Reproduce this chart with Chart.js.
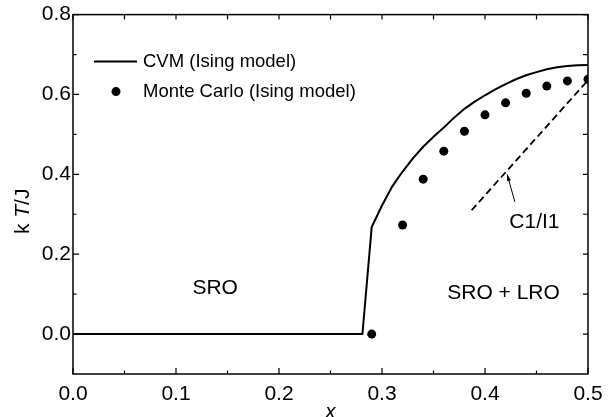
<!DOCTYPE html>
<html>
<head>
<meta charset="utf-8">
<script src="https://cdn.jsdelivr.net/npm/chart.js@4/dist/chart.umd.min.js"></script>
<style>
  html, body { margin: 0; padding: 0; background: #fff; }
</style>
</head>
<body>
<canvas id="chart" width="611" height="417"></canvas>
<script>
// CVM (Ising model) phase boundary
var cvmX = [0, 0.281, 0.29, 0.30, 0.31, 0.32, 0.33, 0.34, 0.35, 0.36, 0.37, 0.38, 0.39, 0.40, 0.41, 0.42, 0.43, 0.44, 0.45, 0.46, 0.47, 0.48, 0.49, 0.50];
var cvmY = [0, 0, 0.268, 0.322, 0.370, 0.407, 0.440, 0.469, 0.494, 0.517, 0.542, 0.564, 0.582, 0.598, 0.613, 0.626, 0.638, 0.648, 0.656, 0.663, 0.668, 0.671, 0.673, 0.674];

// Monte Carlo (Ising model) points
var mcX = [0.29, 0.32, 0.34, 0.36, 0.38, 0.40, 0.42, 0.44, 0.46, 0.48, 0.50];
var mcY = [0.0, 0.273, 0.388, 0.458, 0.508, 0.549, 0.579, 0.603, 0.621, 0.634, 0.638];

// C1/I1 dashed segment
var c1X = [0.387, 0.498];
var c1Y = [0.31, 0.63];

var xTicks = [0, 0.1, 0.2, 0.3, 0.4, 0.5];
var yTicks = [0, 0.2, 0.4, 0.6, 0.8];

var labels = [
    { text: 'SRO', x: 0.138, y: 0.114 },
    { text: 'SRO + LRO', x: 0.418, y: 0.102 },
    { text: 'C1/I1', x: 0.448, y: 0.28 }
];
var arrowFrom = { x: 0.429, y: 0.331 };
var arrowTo = { x: 0.4215, y: 0.40 };

var FONT = "'Liberation Sans', Arial, sans-serif";
Chart.defaults.font.family = FONT;
Chart.defaults.color = '#000';

function pts(xs, ys) {
    return xs.map(function (x, i) { return { x: x, y: ys[i] }; });
}

var frame = {
    id: 'frame',
    afterDatasetsDraw: function (chart) {
        var ctx = chart.ctx;
        var a = chart.chartArea;
        var sx = chart.scales.x, sy = chart.scales.y;
        ctx.save();
        ctx.strokeStyle = '#000';
        ctx.lineWidth = 1.5;
        ctx.strokeRect(a.left, a.top, a.right - a.left, a.bottom - a.top);

        ctx.lineWidth = 1.2;
        ctx.beginPath();
        // x ticks every 0.05 (bottom & top)
        for (var i = 0; i <= 10; i++) {
            var v = i * 0.05;
            var px = sx.getPixelForValue(v);
            var major = i % 2 === 0;
            ctx.moveTo(px, a.bottom);
            ctx.lineTo(px, a.bottom - (major ? 6 : 3.5));
            ctx.moveTo(px, a.top);
            ctx.lineTo(px, a.top + 5);
        }
        // y ticks every 0.1 (left & right)
        for (var j = 0; j <= 8; j++) {
            var vy = j * 0.1;
            var py = sy.getPixelForValue(vy);
            var majorY = j % 2 === 0;
            ctx.moveTo(a.left, py);
            ctx.lineTo(a.left + (majorY ? 6 : 3.5), py);
            ctx.moveTo(a.right, py);
            ctx.lineTo(a.right - 5, py);
        }
        ctx.stroke();

        // arrow pointing at the C1/I1 line
        var x0 = sx.getPixelForValue(arrowFrom.x), y0 = sy.getPixelForValue(arrowFrom.y);
        var x1 = sx.getPixelForValue(arrowTo.x), y1 = sy.getPixelForValue(arrowTo.y);
        ctx.lineWidth = 1;
        ctx.beginPath();
        ctx.moveTo(x0, y0);
        ctx.lineTo(x1, y1);
        ctx.stroke();
        var ang = Math.atan2(y1 - y0, x1 - x0);
        ctx.beginPath();
        ctx.moveTo(x1, y1);
        ctx.lineTo(x1 - 7 * Math.cos(ang - 0.3), y1 - 7 * Math.sin(ang - 0.3));
        ctx.lineTo(x1 - 7 * Math.cos(ang + 0.3), y1 - 7 * Math.sin(ang + 0.3));
        ctx.closePath();
        ctx.fillStyle = '#000';
        ctx.fill();

        // region labels
        ctx.font = '21px ' + FONT;
        ctx.textAlign = 'center';
        ctx.textBaseline = 'middle';
        labels.forEach(function (l) {
            ctx.fillText(l.text, sx.getPixelForValue(l.x), sy.getPixelForValue(l.y));
        });

        // legend
        var ds = chart.data.datasets;
        ctx.font = '18.5px ' + FONT;
        ctx.textAlign = 'left';
        var lx = a.left + 21, ly = a.top + 47;
        ctx.lineWidth = ds[0].borderWidth;
        ctx.beginPath();
        ctx.moveTo(lx, ly);
        ctx.lineTo(lx + 43, ly);
        ctx.stroke();
        ctx.fillText(ds[0].label, lx + 49, ly);
        ly += 30;
        ctx.beginPath();
        ctx.arc(lx + 22, ly, ds[1].pointRadius, 0, Math.PI * 2);
        ctx.fill();
        ctx.fillText(ds[1].label, lx + 49, ly);

        // y axis title: k T/J with italic T
        ctx.translate(23, (a.top + a.bottom) / 2 + 17);
        ctx.rotate(-Math.PI / 2);
        var parts = [['k ', ''], ['T', 'italic '], ['/J', '']];
        var total = 0;
        parts.forEach(function (p) { ctx.font = p[1] + '21px ' + FONT; total += ctx.measureText(p[0]).width; });
        var cx = -total / 2;
        parts.forEach(function (p) {
            ctx.font = p[1] + '21px ' + FONT;
            ctx.fillText(p[0], cx, 0);
            cx += ctx.measureText(p[0]).width;
        });
        ctx.restore();
    }
};

new Chart(document.getElementById('chart').getContext('2d'), {
    type: 'scatter',
    data: {
        datasets: [{
            label: 'CVM (Ising model)',
            data: pts(cvmX, cvmY),
            showLine: true,
            borderColor: '#000',
            borderWidth: 2,
            pointRadius: 0,
            tension: 0
        }, {
            label: 'Monte Carlo (Ising model)',
            data: pts(mcX, mcY),
            showLine: false,
            backgroundColor: '#000',
            borderWidth: 0,
            pointRadius: 4.5,
            clip: 0
        }, {
            label: 'C1/I1',
            data: pts(c1X, c1Y),
            showLine: true,
            borderColor: '#000',
            borderWidth: 1.8,
            borderDash: [7, 4],
            pointRadius: 0
        }]
    },
    options: {
        responsive: false,
        animation: false,
        layout: {
            padding: { left: 0, top: 14, right: 23, bottom: 0 }
        },
        plugins: {
            legend: { display: false },
            tooltip: { enabled: false }
        },
        scales: {
            x: {
                type: 'linear',
                min: 0,
                max: 0.5,
                afterBuildTicks: function (s) { s.ticks = xTicks.map(function (v) { return { value: v }; }); },
                afterFit: function (s) { s.height = 43; },
                grid: { display: false, drawTicks: false },
                border: { display: false },
                ticks: {
                    font: { size: 21 },
                    padding: 8,
                    maxRotation: 0,
                    autoSkip: false,
                    callback: function (v) { return v.toFixed(1); }
                },
                title: {
                    display: true,
                    text: 'x',
                    font: { size: 20, style: 'italic', lineHeight: 0.5 },
                    padding: 0
                }
            },
            y: {
                type: 'linear',
                min: -0.1,
                max: 0.8,
                afterBuildTicks: function (s) { s.ticks = yTicks.map(function (v) { return { value: v }; }); },
                afterFit: function (s) { s.width = 73; },
                grid: { display: false, drawTicks: false },
                border: { display: false },
                ticks: {
                    font: { size: 21 },
                    padding: 2,
                    autoSkip: false,
                    callback: function (v) { return v.toFixed(1); }
                }
            }
        }
    },
    plugins: [frame]
});
</script>
</body>
</html>
